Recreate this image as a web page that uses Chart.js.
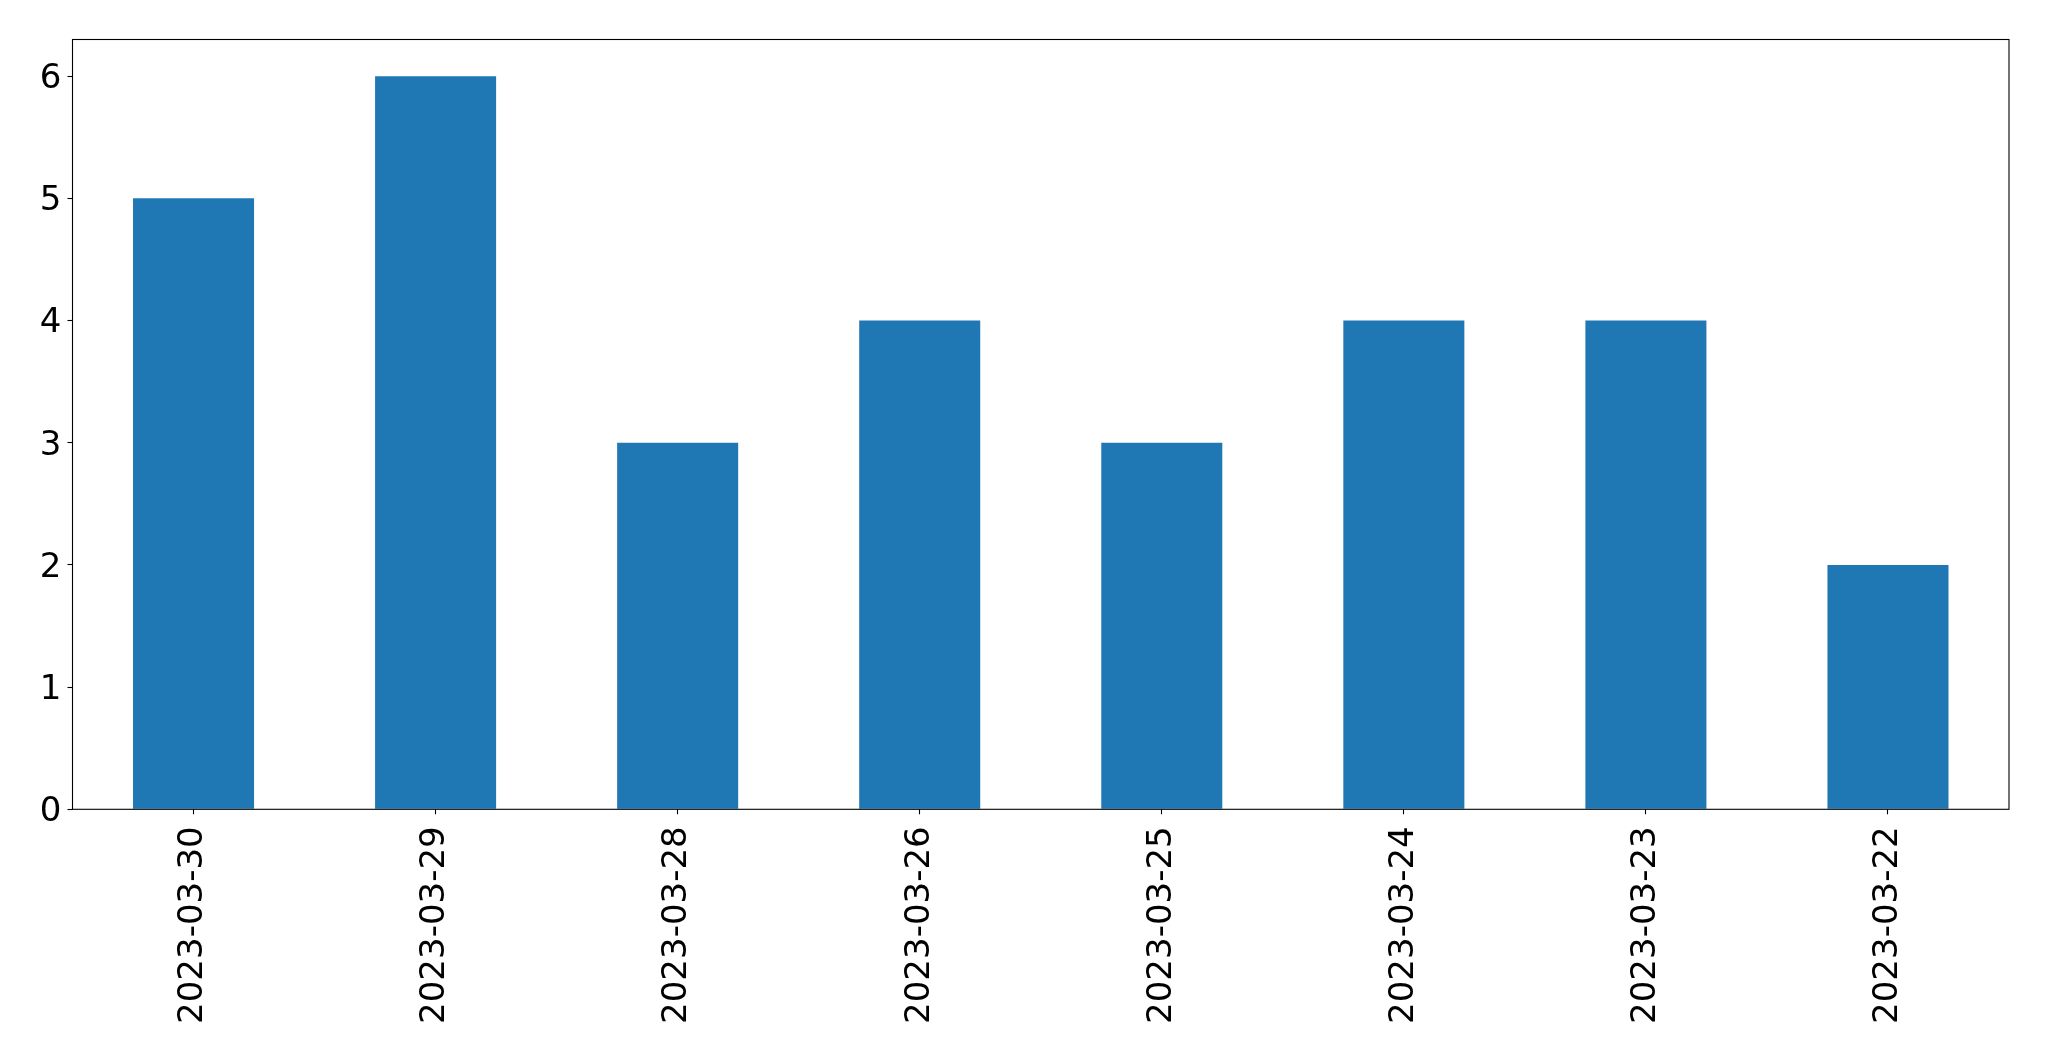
<!DOCTYPE html>
<html>
<head>
<meta charset="utf-8">
<script src="https://cdn.jsdelivr.net/npm/chart.js@4"></script>
<style>
html,body{margin:0;padding:0;background:#fff;}
canvas{display:block;}
</style>
</head>
<body>
<canvas id="c" width="2049" height="1061"></canvas>
<script>
const categories = ["2023-03-30","2023-03-29","2023-03-28","2023-03-26","2023-03-25","2023-03-24","2023-03-23","2023-03-22"];
const counts = [5, 6, 3, 4, 3, 4, 4, 2];
const yTicks = [0, 1, 2, 3, 4, 5, 6];

const FONT = "'DejaVu Sans', sans-serif";

const boxPlugin = {
  id: 'box',
  afterDraw(chart) {
    const a = chart.chartArea, ctx = chart.ctx;
    ctx.save();
    ctx.strokeStyle = '#000';
    ctx.lineWidth = 1.1;
    ctx.strokeRect(a.left, a.top, a.right - a.left, a.bottom - a.top);
    ctx.restore();
  }
};

new Chart(document.getElementById('c'), {
  type: 'bar',
  data: {
    labels: categories,
    datasets: [{
      data: counts,
      backgroundColor: '#1f77b4',
      borderWidth: 0,
      barPercentage: 0.5,
      categoryPercentage: 1.0
    }]
  },
  options: {
    responsive: false,
    animation: false,
    devicePixelRatio: 1,
    layout: { padding: { top: 39.5, right: 40, left: 0, bottom: 0 } },
    plugins: { legend: { display: false }, tooltip: { enabled: false } },
    scales: {
      x: {
        grid: { display: true, offset: false, drawOnChartArea: false, drawTicks: true, tickLength: 5, color: '#000', tickWidth: 1.1 },
        border: { display: false },
        ticks: { color: '#000', font: { family: FONT, size: 34 }, maxRotation: 90, minRotation: 90, padding: 12, autoSkip: false },
        afterFit(s) { s.height = 1061 - 809.3; }
      },
      y: {
        min: 0, max: 6.3,
        afterBuildTicks(s) { s.ticks = yTicks.map(v => ({ value: v })); },
        grid: { display: true, drawOnChartArea: false, drawTicks: true, tickLength: 5, color: '#000', tickWidth: 1.1 },
        border: { display: false },
        ticks: { color: '#000', font: { family: FONT, size: 34 }, padding: 6, labelOffset: 3, includeBounds: false },
        afterFit(s) { s.width = 72.5; }
      }
    }
  },
  plugins: [boxPlugin]
});
</script>
</body>
</html>
